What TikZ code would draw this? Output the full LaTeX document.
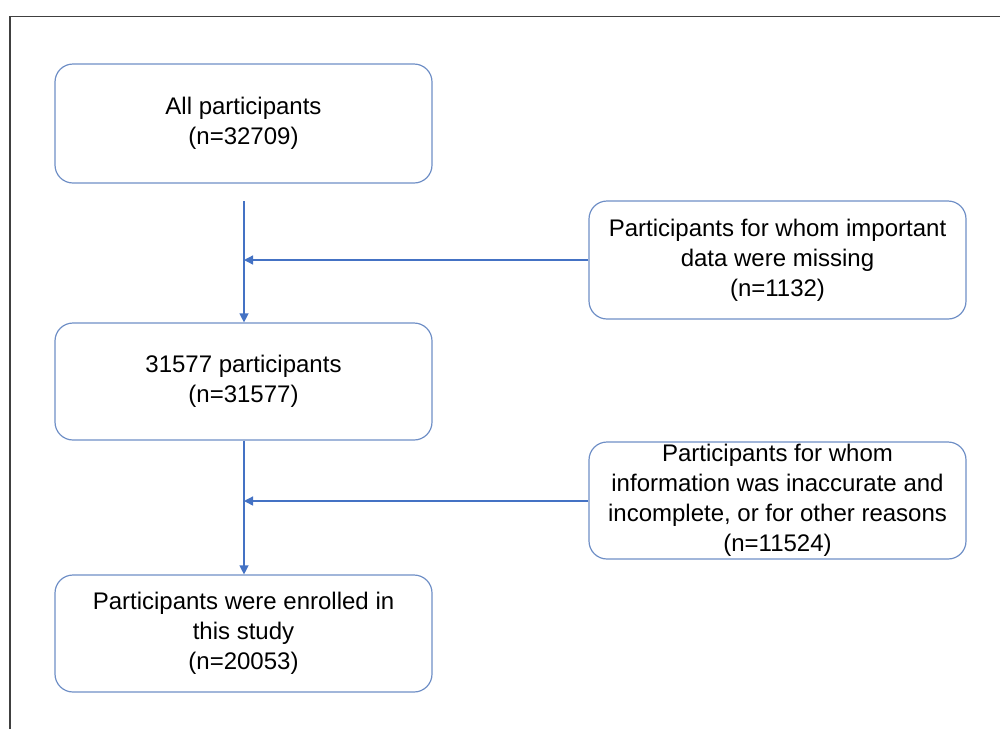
\documentclass[tikz,border=0pt]{standalone}
\usepackage{fontspec}
\setmainfont{Liberation Sans}
\usetikzlibrary{arrows.meta}
\definecolor{boxline}{HTML}{6F8FC6}
\definecolor{arrowc}{HTML}{4472C4}
\definecolor{frame}{HTML}{404040}
\tikzset{
  flowbox/.style={draw=boxline, line width=1.2pt, rounded corners=18pt, align=center,
    minimum width=377pt, font=\fontsize{24pt}{30pt}\selectfont, inner sep=0pt},
  conn/.style={draw=arrowc, line width=1.3pt, -{Triangle[width=9pt,length=9pt]}},
}
\begin{document}
\begin{tikzpicture}[x=1pt,y=-1pt]
\useasboundingbox (0,0) rectangle (1000,729);
\draw[frame, line width=1.6pt] (10,729) -- (10,16.5) -- (1000,16.5);
\node[flowbox, minimum height=119pt] (all) at (243.5,123.5) {All participants\\(n=32709)};
\node[flowbox, minimum height=117pt] (p2) at (243.5,381.5) {31577 participants\\(n=31577)};
\node[flowbox, minimum height=117pt] (p3) at (243.5,633.5) {Participants were enrolled in\\this study\\(n=20053)};
\node[flowbox, minimum height=118pt] (ex1) at (777.5,260) {Participants for whom important\\data were missing\\(n=1132)};
\node[flowbox, minimum height=117pt] (ex2) at (777.5,500.5) {Participants for whom\\information was inaccurate and\\incomplete, or for other reasons\\(n=11524)};
\coordinate (s1) at (244,201);
\coordinate (j1) at (244,260);
\coordinate (j2) at (244,501);
\draw[conn] (s1) -- (p2.north -| s1);
\draw[conn] (ex1.west) -- (j1);
\draw[conn] (p2.south -| s1) -- (p3.north -| s1);
\draw[conn] (ex2.west |- j2) -- (j2);
\end{tikzpicture}
\end{document}
